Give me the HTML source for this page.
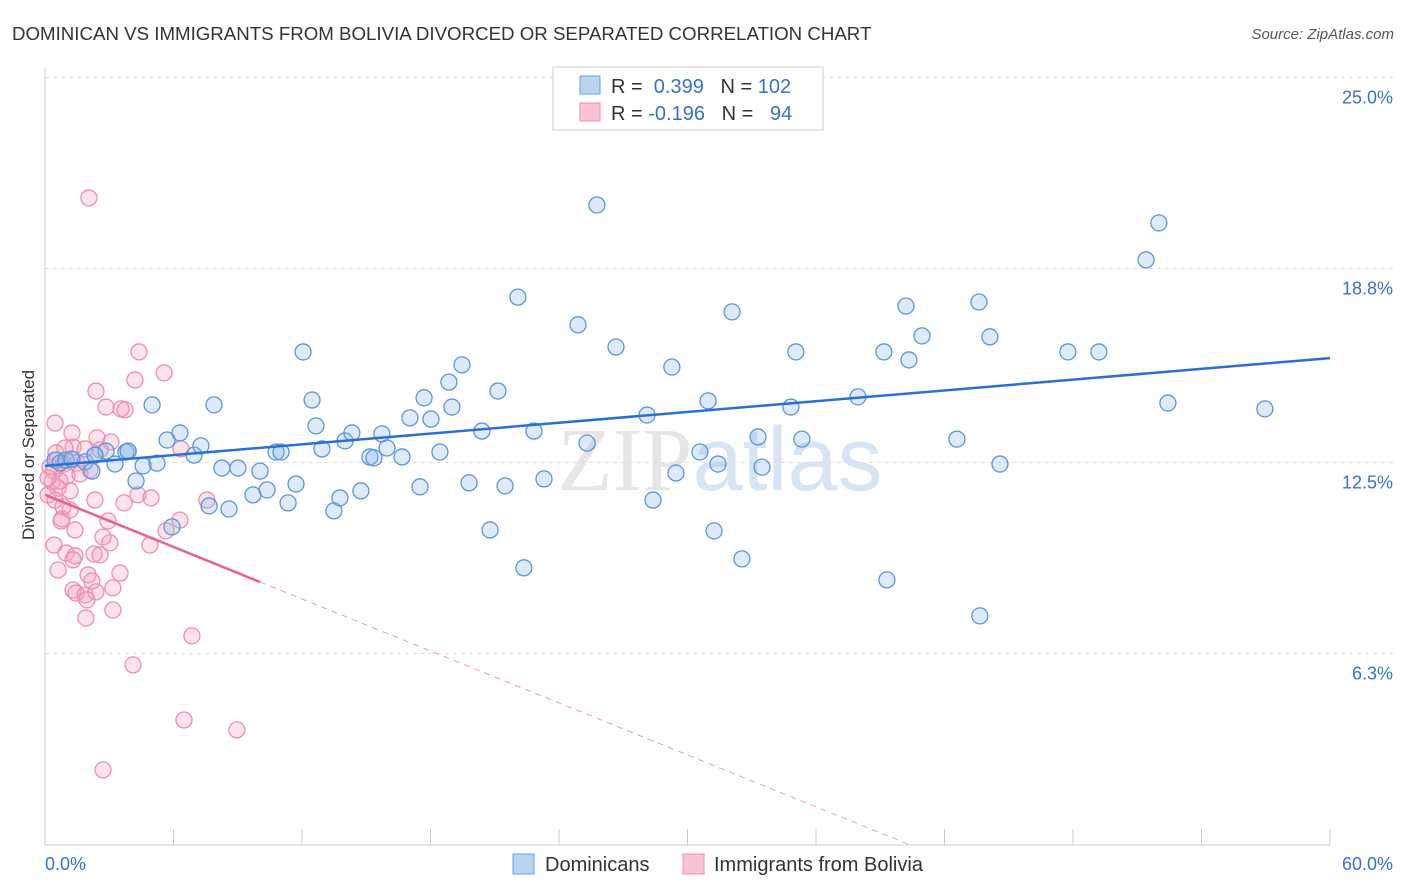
<!DOCTYPE html>
<html><head><meta charset="utf-8"><style>
body{margin:0;background:#fff;font-family:"Liberation Sans",sans-serif}
svg{display:block}
</style></head><body>
<svg id="chart" width="1406" height="892">
<text x="12" y="40" font-size="18.7" fill="#333">DOMINICAN VS IMMIGRANTS FROM BOLIVIA DIVORCED OR SEPARATED CORRELATION CHART</text>
<text x="1394" y="39" font-size="15" fill="#555" font-style="italic" text-anchor="end">Source: ZipAtlas.com</text>
<text x="720" y="490" font-size="90" fill="#e6e6e6" text-anchor="middle" font-family="Liberation Serif,serif">ZIP<tspan fill="#d6e4f4" font-family="Liberation Sans,sans-serif">atlas</tspan></text>
<g id="grid"></g><g id="axes"></g><g id="marks"></g>
<text transform="translate(34,455) rotate(-90)" font-size="17" fill="#333" text-anchor="middle">Divorced or Separated</text>
<g>
<rect x="553" y="67" width="270" height="63" fill="#fff" stroke="#ccc"/>
<rect x="580" y="76" width="20" height="18" fill="#b9d3f3" stroke="#6a9fe0"/>
<rect x="580" y="103" width="20" height="18" fill="#f8c3d3" stroke="#ec90ad"/>
<text x="611" y="93" font-size="20" fill="#333">R = <tspan fill="#3670d0">&#160;0.399</tspan>&#160;&#160;&#160;N = <tspan fill="#3670d0">102</tspan></text>
<text x="611" y="120" font-size="20" fill="#333">R = <tspan fill="#3670d0">-0.196</tspan>&#160;&#160;&#160;N = <tspan fill="#3670d0">&#160;&#160;94</tspan></text>
</g>
<g>
<rect x="513" y="854" width="21" height="20" fill="#b9d3f3" stroke="#6a9fe0"/>
<text x="545" y="871" font-size="20" fill="#333">Dominicans</text>
<rect x="683" y="854" width="21" height="20" fill="#f8c3d3" stroke="#ec90ad"/>
<text x="714" y="871" font-size="20" fill="#333">Immigrants from Bolivia</text>
</g>
</svg>
<script>
const yTicks=[25.0,18.8,12.5,6.3];
const yTickLabels=["25.0%","18.8%","12.5%","6.3%"];
const xTicks=[0,6,12,18,24,30,36,42,48,54,60];
const xEndLabels=["0.0%","60.0%"];
const domX=[0.47,0.70,0.98,1.26,1.87,2.19,2.33,2.85,3.27,3.78,3.88,4.25,4.58,5.00,5.23,5.70,5.93,6.30,6.96,7.28,7.66,7.89,8.26,8.59,9.01,9.71,10.04,10.37,10.79,11.02,11.35,11.72,12.05,12.47,12.65,12.93,13.49,13.77,14.01,14.33,14.75,15.17,15.36,15.73,15.97,16.67,17.04,17.51,17.70,18.02,18.44,18.86,19.00,19.47,19.80,20.40,20.78,21.15,21.48,22.08,22.36,22.83,23.30,24.89,25.31,25.77,26.66,28.11,28.39,29.27,29.46,30.58,30.96,31.24,31.42,32.08,32.54,33.29,33.48,34.83,35.06,35.34,37.96,39.17,39.31,40.20,40.34,40.95,42.58,43.61,43.65,44.12,44.59,47.76,49.21,51.41,52.01,52.43,56.96,1.26,2.33,3.88];
const domY=[12.58,12.48,12.58,12.61,12.52,12.22,12.74,12.87,12.45,12.84,12.87,11.90,12.39,14.37,12.48,13.23,10.41,13.46,12.74,13.04,11.09,14.37,12.32,10.99,12.32,11.45,12.22,11.61,12.84,12.84,11.19,11.80,16.09,14.53,13.69,12.94,10.93,11.35,13.20,13.46,11.58,12.68,12.65,13.43,12.97,12.68,13.95,11.71,14.60,13.91,12.84,15.11,14.30,15.67,11.84,13.52,10.31,14.82,11.74,17.87,9.08,13.52,11.97,16.97,13.13,20.86,16.25,14.04,11.28,15.60,12.16,12.84,14.50,10.28,12.45,17.39,9.37,13.33,12.35,14.30,16.09,13.26,14.63,16.09,8.69,17.58,15.83,16.61,13.26,17.71,7.52,16.58,12.45,16.09,16.09,19.08,20.28,14.43,14.24,12.61,12.74,12.87];
const bolX=[2.05,4.39,5.56,2.38,2.85,3.55,0.47,1.26,1.31,1.87,2.43,3.08,0.51,0.89,0.23,0.42,1.03,0.33,0.61,1.17,2.33,0.47,0.84,0.79,0.75,1.40,2.94,3.69,4.34,4.95,6.35,7.56,6.30,5.65,0.42,0.98,1.40,2.29,2.71,3.03,2.57,3.50,1.31,0.61,2.01,2.19,3.17,1.31,1.45,1.87,2.38,1.96,3.17,1.91,6.86,4.11,6.49,8.96,2.71,1.49,2.10,0.70,4.90,0.14,0.14,1.17,1.63,0.93,0.56,2.57,4.20,3.74];
const bolY=[21.09,16.09,15.41,14.82,14.30,14.24,13.78,13.46,13.00,12.94,13.30,13.17,12.81,12.45,12.35,12.22,12.06,11.87,11.67,11.58,11.28,11.28,11.06,10.67,10.60,10.31,10.60,11.19,11.45,11.35,12.94,11.28,10.63,10.28,9.82,9.56,9.47,9.53,10.08,9.89,9.50,8.91,9.34,9.01,8.85,8.65,8.43,8.36,8.26,8.20,8.30,8.04,7.71,7.45,6.87,5.93,4.14,3.82,2.52,12.48,12.26,11.90,9.82,12.00,11.45,10.96,12.13,12.97,12.58,12.91,15.18,14.21];
const domTrend=[[0,12.39],[60,15.89]];
const bolTrendSolid=[[0,11.45],[10.04,8.62]];
const bolTrendDash=[[10.04,8.62],[40.3,0.11]];
const NS="http://www.w3.org/2000/svg";
const X0=45,X1=1330,YB=847.5,PXPER=192.5/6.25;
function sx(v){return X0+(X1-X0)*v/60;}
function sy(v){return YB-v*PXPER;}
function mk(t,a,p){const e=document.createElementNS(NS,t);for(const k in a)e.setAttribute(k,a[k]);p.appendChild(e);return e;}
const grid=document.getElementById('grid'),axes=document.getElementById('axes'),marks=document.getElementById('marks');
yTicks.forEach((v,i)=>{
 const l=mk('line',{x1:X0,x2:1395,y1:sy(v),y2:sy(v),stroke:'#ddd','stroke-dasharray':'4,4'},grid);
 
 
 const t=mk('text',{x:1393,y:sy(v)+26,'font-size':18,fill:'#3670d0','text-anchor':'end'},grid);
 t.textContent=yTickLabels[i];
 
 
});
const la=mk('line',{x1:X0,x2:X0,y1:68,y2:845,stroke:'#ccc'},axes);


const ba=mk('line',{x1:X0,x2:X1,y1:845,y2:845,stroke:'#ccc'},axes);


xTicks.forEach(v=>{
 const t=mk('line',{x1:sx(v),x2:sx(v),y1:829,y2:845,stroke:'#ccc'},axes);
 
 
});
[[0,'start',xEndLabels[0],45],[60,'end',xEndLabels[1],1393]].forEach(d=>{
 const t=mk('text',{x:d[3],y:870,'font-size':18,fill:'#3670d0','text-anchor':d[1]},axes);
 t.textContent=d[2];
 
 
});
bolX.forEach((v,i)=>{
 const c=mk('circle',{cx:sx(v),cy:sy(bolY[i]),r:8,fill:'rgba(244,160,186,0.3)',stroke:'#ec8fac','stroke-width':1.3},marks);
 
 
});
domX.forEach((v,i)=>{
 const c=mk('circle',{cx:sx(v),cy:sy(domY[i]),r:8,fill:'rgba(140,185,240,0.3)',stroke:'#5b95dc','stroke-width':1.3},marks);
 
 
});
const t1=mk('line',{x1:sx(domTrend[0][0]),y1:sy(domTrend[0][1]),x2:sx(domTrend[1][0]),y2:sy(domTrend[1][1]),stroke:'#2a6fd4','stroke-width':2.5},marks);


const t2=mk('line',{x1:sx(bolTrendSolid[0][0]),y1:sy(bolTrendSolid[0][1]),x2:sx(bolTrendSolid[1][0]),y2:sy(bolTrendSolid[1][1]),stroke:'#e8608e','stroke-width':2.5},marks);


const t3=mk('line',{x1:sx(bolTrendDash[0][0]),y1:sy(bolTrendDash[0][1]),x2:sx(bolTrendDash[1][0]),y2:sy(bolTrendDash[1][1]),stroke:'#eca0b8','stroke-width':1,'stroke-dasharray':'6,5'},marks);


</script>
</body></html>
